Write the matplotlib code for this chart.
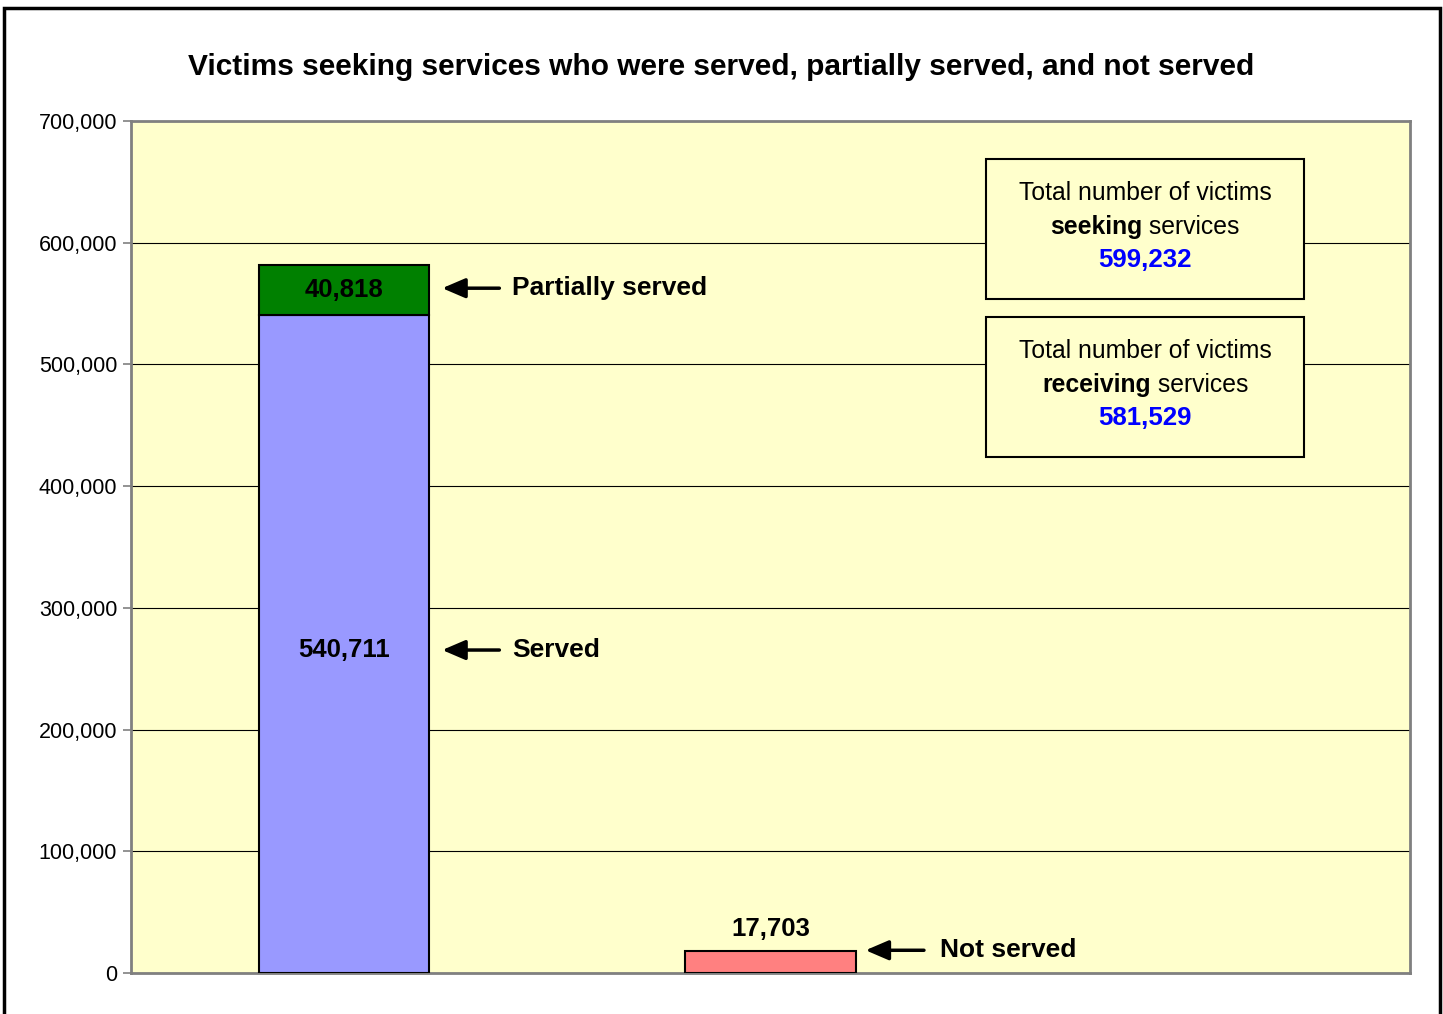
import matplotlib.pyplot as plt
from matplotlib.patches import Rectangle
from matplotlib.ticker import FuncFormatter, MultipleLocator
from matplotlib.transforms import offset_copy

plt.rcParams['font.family'] = ['Liberation Sans', 'DejaVu Sans']

# data
served = [540711, 0]
partial = [40818, 0]
not_served = [0, 17703]
total_seeking = 599232
total_receiving = 581529
labels = ['Served', 'Partially served', 'Not served']

fig = plt.figure(figsize=(14.43, 10.14), dpi=100)
ax = fig.add_axes([0.0908, 0.0404, 0.8863, 0.8403])
ax.set_facecolor('#FFFFCC')

x = [0, 1]
w = 0.4
ax.bar(x[0], served[0], width=w, color='#9999FF', edgecolor='black', lw=1.5, zorder=3)
ax.bar(x[0], partial[0], bottom=served[0], width=w, color='#008000', edgecolor='black', lw=1.5, zorder=3)
ax.bar(x[1], not_served[1], width=w, color='#FF8080', edgecolor='black', lw=1.5, zorder=3)

ax.set_xlim(-0.5, 2.5)
ax.set_ylim(0, 700000)
ax.yaxis.set_major_locator(MultipleLocator(100000))
ax.yaxis.set_major_formatter(FuncFormatter(lambda v, p: f'{int(v):,}'))
ax.tick_params(axis='y', labelsize=15.5, length=6, color='#808080', width=1.2, pad=4)
ax.tick_params(axis='x', bottom=False, labelbottom=False)
ax.grid(axis='y', color='black', lw=0.8, zorder=1)
ax.set_axisbelow(True)
for s in ax.spines.values():
    s.set_color('#808080')
    s.set_linewidth(2)

fig.text(0.5, 0.934, 'Victims seeking services who were served, partially served, and not served',
         ha='center', va='center', fontsize=21.5, fontweight='bold')

# value labels
ax.text(x[0], served[0] + partial[0] / 2, f'{partial[0]:,}', ha='center', va='center',
        fontsize=18.5, fontweight='bold', zorder=4)
ax.text(x[0], served[0] / 2 - 5000, f'{served[0]:,}', ha='center', va='center',
        fontsize=18.5, fontweight='bold', zorder=4)
ax.text(x[1], not_served[1] + 9000, f'{not_served[1]:,}', ha='center', va='bottom',
        fontsize=18.5, fontweight='bold', zorder=4)

# arrows with labels
arrow_kw = dict(arrowstyle='-|>,head_length=0.7,head_width=0.3', lw=2.5, color='black',
                mutation_scale=20, shrinkA=0, shrinkB=0)
arrows = [(0.23, 0.364, 0.394, served[0] + partial[0] / 2 + 1500, labels[1]),
          (0.23, 0.364, 0.394, served[0] / 2 - 5000, labels[0]),
          (1.223, 1.36, 1.397, not_served[1] + 1000, labels[2])]
for head, tail, tx, y, lab in arrows:
    ax.annotate('', xy=(head, y), xytext=(tail, y), arrowprops=arrow_kw, zorder=4)
    ax.text(tx, y, lab, ha='left', va='center', fontsize=19, fontweight='bold', zorder=4)

# info boxes
boxes = [(0.7911, 'seeking', total_seeking, [0.9155, 0.8756, 0.8369]),
         (0.6056, 'receiving', total_receiving, [0.730, 0.690, 0.651])]
cx = 0.7928
fig.canvas.draw()
r = fig.canvas.get_renderer()
for y0, word, total, ys in boxes:
    ax.add_patch(Rectangle((0.6685, y0), 0.2486, 0.1643, transform=ax.transAxes,
                           facecolor='#FFFFCC', edgecolor='black', lw=1.5, zorder=5))
    ax.text(cx, ys[0], 'Total number of victims', transform=ax.transAxes, ha='center',
            va='center', fontsize=17.8, zorder=6)
    t1 = ax.text(0, 0, word, fontsize=17.8, fontweight='bold')
    t2 = ax.text(0, 0, ' services', fontsize=17.8)
    w1 = t1.get_window_extent(r).width
    w2 = t2.get_window_extent(r).width
    t1.remove()
    t2.remove()
    shift = (w1 - w2) / 2
    tr_b = offset_copy(ax.transAxes, fig=fig, x=shift * 72 / fig.dpi, units='points')
    ax.text(cx, ys[1], word, transform=tr_b, ha='right', va='center', fontsize=17.8,
            fontweight='bold', zorder=6)
    ax.text(cx, ys[1], ' services', transform=tr_b, ha='left', va='center', fontsize=17.8, zorder=6)
    ax.text(cx, ys[2], f'{total:,}', transform=ax.transAxes, ha='center', va='center',
            fontsize=18.6, fontweight='bold', color='#0000FF', zorder=6)

# outer frame of the chart area
fig.patches.append(Rectangle((0.0028, -0.05), 0.9952, 1.042, transform=fig.transFigure,
                             fill=False, edgecolor='black', lw=2.5))

fig.savefig('out.png', dpi=100)
